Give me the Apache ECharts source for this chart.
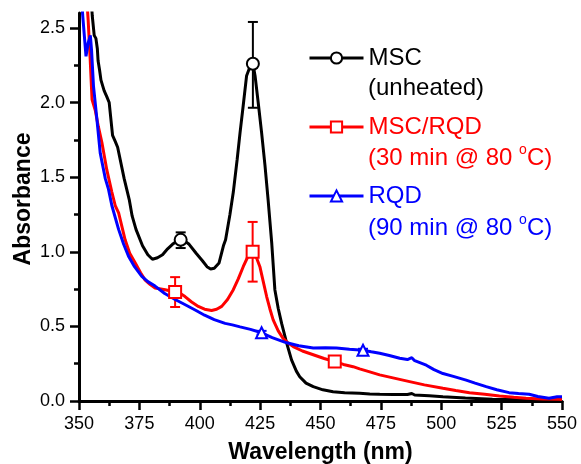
<!DOCTYPE html>
<html><head><meta charset="utf-8">
<script src="https://cdn.jsdelivr.net/npm/echarts@6/dist/echarts.min.js"></script>
<style>html,body{margin:0;padding:0;background:#fff}#c{width:581px;height:464px}</style>
</head><body><div id="c"></div>
<script>
// ---- Data ----
const wlMSC = [354.8,355.5,356.3,357.0,357.6,357.9,358.5,359.1,359.8,360.4,361.5,362.5,363.9,365.0,366.0,368.7,370.8,372.0,373.6,376.3,378.5,380.4,382.5,384.6,386.7,388.7,390.5,392.1,394.0,395.6,398.5,401.1,403.0,404.5,406.0,408.0,409.8,410.7,412.5,413.9,415.5,416.7,418.0,419.4,420.8,422.0,422.9,424.2,425.6,427.0,428.3,429.8,431.1,432.5,433.9,436.0,438.0,440.0,441.4,444.0,447.0,451.0,455.2,460.0,466.2,470.4,474.5,480.0,486.0,487.8,489.0,495.0,500.7,510.0,521.2,535.0,548.9,550.0];
const absMSC = [2.75,2.58,2.45,2.43,2.36,2.28,2.22,2.15,2.14,2.08,2.04,2.00,1.78,1.74,1.70,1.49,1.35,1.24,1.15,1.04,0.98,0.95,0.96,0.98,1.02,1.05,1.07,1.08,1.07,1.05,0.99,0.94,0.90,0.885,0.89,0.925,1.04,1.08,1.25,1.40,1.62,1.80,1.98,2.18,2.24,2.26,2.18,2.00,1.80,1.58,1.35,1.06,0.746,0.62,0.52,0.388,0.275,0.20,0.163,0.12,0.096,0.075,0.062,0.055,0.052,0.047,0.045,0.044,0.043,0.05,0.04,0.035,0.029,0.02,0.011,0.008,0.007,0.006];

const wlMix = [353.0,353.8,354.6,355.4,356.7,358.0,359.5,361.5,363.6,365.0,366.4,369.1,371.0,373.3,375.5,377.4,379.5,381.5,385.7,389.8,392.0,393.9,396.5,399.4,402.0,404.9,407.0,409.1,411.5,413.9,416.0,418.0,420.0,421.9,423.5,424.9,426.3,427.7,429.0,430.4,432.5,434.5,436.5,438.7,442.5,447.0,451.5,455.9,459.5,463.5,466.2,470.4,474.5,480.0,486.9,493.0,500.7,506.0,511.7,518.0,524.1,530.0,535.1,542.0,548.9,550.0];
const absMix = [2.75,2.55,2.30,2.02,1.95,1.84,1.73,1.55,1.40,1.31,1.26,1.08,0.99,0.925,0.86,0.81,0.78,0.757,0.746,0.73,0.72,0.70,0.665,0.634,0.615,0.607,0.615,0.634,0.68,0.746,0.82,0.90,0.97,1.00,0.96,0.90,0.80,0.70,0.62,0.544,0.47,0.42,0.39,0.365,0.335,0.31,0.285,0.264,0.245,0.23,0.215,0.195,0.175,0.155,0.13,0.108,0.085,0.07,0.056,0.045,0.034,0.025,0.018,0.014,0.011,0.01];

const wlRQD = [351.0,351.5,352.9,353.8,354.7,355.2,356.0,357.4,358.8,360.9,362.2,363.6,366.4,368.5,370.5,373.0,376.0,378.5,381.5,385.5,389.8,394.0,398.1,402.0,406.0,410.5,413.5,416.7,421.0,425.6,430.0,436.0,441.0,447.0,452.0,456.6,462.0,467.6,471.0,474.5,478.5,482.8,486.0,487.8,489.0,493.8,497.0,500.7,505.0,510.3,514.0,518.6,523.0,528.1,532.0,536.4,540.0,544.6,548.0,550.0];
const absRQD = [2.75,2.59,2.31,2.40,2.45,2.35,2.11,1.89,1.66,1.49,1.42,1.31,1.15,1.05,0.97,0.90,0.835,0.80,0.77,0.72,0.68,0.645,0.61,0.575,0.545,0.52,0.51,0.497,0.48,0.457,0.425,0.39,0.37,0.355,0.357,0.355,0.347,0.34,0.33,0.32,0.305,0.286,0.278,0.29,0.27,0.24,0.21,0.184,0.165,0.14,0.12,0.096,0.075,0.056,0.05,0.045,0.03,0.018,0.028,0.028];

// marker positions (wavelengths that carry a symbol)
const markMSC = [392.1, 422.0];
const markMix = [389.8, 421.9, 455.9];
const markRQD = [425.6, 467.6];

// error bars: wavelength, low, high
const errMSCx = [392.1, 422.0], errMSClo = [1.025, 1.965], errMSChi = [1.13, 2.54];
const errMixx = [389.8, 421.9, 455.9], errMixlo = [0.63, 0.80, 0.25], errMixhi = [0.83, 1.20, 0.28];
const errRQDx = [425.6, 467.6], errRQDlo = [0.445, 0.33], errRQDhi = [0.47, 0.35];

const xTicks = [350, 375, 400, 425, 450, 475, 500, 525, 550];
const yTicks = [0, 0.5, 1.0, 1.5, 2.0, 2.5];

const FONT = '"Liberation Sans", Arial, sans-serif';

function buildLine(xs, ys, marks) {
  return xs.map((x, i) => {
    const item = { value: [x, ys[i]] };
    if (marks.indexOf(x) < 0) item.symbol = 'none';
    return item;
  });
}
function buildErr(xs, lo, hi) {
  return xs.map((x, i) => [x, lo[i], hi[i]]);
}
function errRender(params, api) {
  const x = api.value(0), lo = api.value(1), hi = api.value(2);
  const p1 = api.coord([x, hi]), p2 = api.coord([x, lo]);
  const w = 5;
  const style = { stroke: api.visual('color'), lineWidth: 2 };
  return { type: 'group', children: [
    { type: 'line', shape: { x1: p1[0], y1: p1[1], x2: p2[0], y2: p2[1] }, style: style },
    { type: 'line', shape: { x1: p1[0] - w, y1: p1[1], x2: p1[0] + w, y2: p1[1] }, style: style },
    { type: 'line', shape: { x1: p2[0] - w, y1: p2[1], x2: p2[0] + w, y2: p2[1] }, style: style }
  ]};
}

const chart = echarts.init(document.getElementById('c'), null, { renderer: 'canvas' });
const lineCommon = (name, color, symbol, size, xs, ys, marks) => ({
  name: name, type: 'line', data: buildLine(xs, ys, marks),
  symbol: symbol, symbolSize: size, showSymbol: true, showAllSymbol: true,
  itemStyle: { color: color, borderWidth: 2 },
  lineStyle: { color: color, width: 3 },
  emphasis: { disabled: true }, z: 3, clip: true
});
const errCommon = (name, color, xs, lo, hi) => ({
  name: name, type: 'custom', renderItem: errRender, data: buildErr(xs, lo, hi),
  encode: { x: 0, y: [1, 2] }, itemStyle: { color: color }, z: 2, silent: true
});
const subStyle = (text, color, y) => ({
  type: 'text', x: 368, y: y,
  style: { text: text, fill: color, fontSize: 24, fontFamily: FONT, verticalAlign: 'middle', lineHeight: 30,
    rich: { sup: { fontSize: 14, lineHeight: 16, fill: color, fontFamily: FONT, verticalAlign: 'top' } } }
});

chart.setOption({
  animation: false,
  backgroundColor: '#fff',
  textStyle: { fontFamily: FONT },
  grid: { left: 79, right: 19, top: 13, bottom: 63, containLabel: false, outerBoundsMode: 'none' },
  xAxis: {
    type: 'value', min: 350, max: 550, interval: 25,
    name: 'Wavelength (nm)', nameLocation: 'middle', nameGap: 40, nameMoveOverlap: false,
    nameTextStyle: { fontSize: 23, fontWeight: 'bold', color: '#000', fontFamily: FONT },
    axisLine: { lineStyle: { color: '#000', width: 3 } },
    axisTick: { show: true, length: 9, lineStyle: { color: '#000', width: 2.5 } },
    minorTick: { show: true, splitNumber: 2, length: 5, lineStyle: { color: '#000', width: 2.5 } },
    axisLabel: { fontSize: 18, color: '#000', margin: 14, fontFamily: FONT,
      formatter: v => xTicks.indexOf(v) >= 0 ? String(v) : '' },
    splitLine: { show: false }
  },
  yAxis: {
    type: 'value', min: 0, max: 2.6, interval: 0.5,
    name: 'Absorbance', nameLocation: 'middle', nameGap: 44, nameMoveOverlap: false,
    nameTextStyle: { fontSize: 23, fontWeight: 'bold', color: '#000', fontFamily: FONT, padding: [0, 0, 0, 16] },
    axisLine: { show: true, lineStyle: { color: '#000', width: 3 } },
    axisTick: { show: true, length: 9, lineStyle: { color: '#000', width: 2.5 }, customValues: yTicks },
    minorTick: { show: true, splitNumber: 2, length: 5, lineStyle: { color: '#000', width: 2.5 } },
    axisLabel: { fontSize: 18, color: '#000', margin: 14, fontFamily: FONT, customValues: yTicks,
      formatter: v => v.toFixed(1) },
    splitLine: { show: false }
  },
  legend: {
    orient: 'vertical', left: 308, top: 45, padding: 0, itemWidth: 54, itemHeight: 14, itemGap: 43,
    selectedMode: false,
    lineStyle: { width: 3 },
    textStyle: { fontSize: 24, lineHeight: 26, fontFamily: FONT },
    data: [
      { name: 'MSC', textStyle: { color: '#000' } },
      { name: 'MSC/RQD', textStyle: { color: '#ff0000' } },
      { name: 'RQD', textStyle: { color: '#0000ff' } }
    ]
  },
  graphic: [
    subStyle('(unheated)', '#000', 88),
    subStyle('(30 min @ 80 {sup|o}C)', '#ff0000', 158),
    subStyle('(90 min @ 80 {sup|o}C)', '#0000ff', 228)
  ],
  series: [
    errCommon('errMSC', '#000', errMSCx, errMSClo, errMSChi),
    errCommon('errMix', '#ff0000', errMixx, errMixlo, errMixhi),
    errCommon('errRQD', '#0000ff', errRQDx, errRQDlo, errRQDhi),
    lineCommon('MSC', '#000', 'emptyCircle', 12, wlMSC, absMSC, markMSC),
    lineCommon('MSC/RQD', '#ff0000', 'emptyRect', 12, wlMix, absMix, markMix),
    lineCommon('RQD', '#0000ff', 'emptyTriangle', 11, wlRQD, absRQD, markRQD)
  ]
});
</script></body></html>
